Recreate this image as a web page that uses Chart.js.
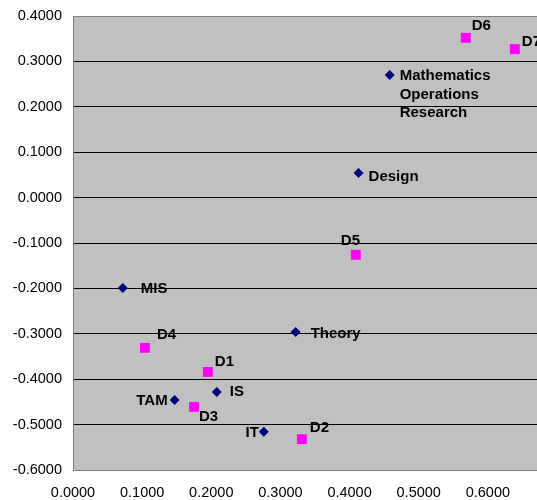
<!DOCTYPE html>
<html>
<head>
<meta charset="utf-8">
<script src="https://cdn.jsdelivr.net/npm/chart.js@4"></script>
<style>
  html, body { margin: 0; padding: 0; background: #fff; overflow: hidden; }
  #wrap { width: 564px; height: 500px; }
</style>
</head>
<body>
<div id="wrap"><canvas id="grafico" width="564" height="500"></canvas></div>
<script>
// areas (blue diamonds)
const areaNames = ["Mathematics\nOperations\nResearch", "Design", "MIS", "Theory", "IS", "TAM", "IT"];
const areaX = [0.458, 0.413, 0.072, 0.322, 0.208, 0.147, 0.276];
const areaY = [0.270, 0.054, -0.199, -0.296, -0.428, -0.446, -0.516];

// dimensions (pink squares)
const dimNames = ["D1", "D2", "D3", "D4", "D5", "D6", "D7"];
const dimX = [0.195, 0.331, 0.175, 0.104, 0.409, 0.568, 0.639];
const dimY = [-0.384, -0.532, -0.461, -0.331, -0.126, 0.352, 0.327];

// label offsets in px [dx, dy, align]
const areaOffsets = [[10, 1, "left"], [10, 4, "left"], [18, 1, "left"], [15, 2, "left"], [13, 0, "left"], [-7, 1, "right"], [-5, 1, "right"]];
const dimOffsets = [[7, -10, "left"], [8, -11, "left"], [5, 10, "left"], [12, -13, "left"], [-15, -14, "left"], [6, -12, "left"], [7, -7, "left"]];

const fonte = "'Liberation Sans', Arial, sans-serif";

const fundo = {
    id: "fundo",
    beforeDraw(chart) {
        const a = chart.chartArea, ctx = chart.ctx;
        ctx.save();
        ctx.fillStyle = "#C0C0C0";
        ctx.fillRect(a.left, a.top, a.right - a.left, a.bottom - a.top);
        ctx.restore();
    },
    beforeDatasetsDraw(chart) {
        const a = chart.chartArea, ctx = chart.ctx;
        ctx.save();
        ctx.strokeStyle = "#808080";
        ctx.lineWidth = 1;
        ctx.strokeRect(a.left + 0.5, a.top + 0.5, a.right - a.left, a.bottom - a.top);
        ctx.restore();
    }
};

const rotulos = {
    id: "rotulos",
    afterDatasetsDraw(chart) {
        const ctx = chart.ctx;
        ctx.save();
        ctx.font = "bold 15px " + fonte;
        ctx.fillStyle = "#000";
        ctx.textBaseline = "middle";
        const grupos = [[0, areaNames, areaOffsets], [1, dimNames, dimOffsets]];
        grupos.forEach(([ds, nomes, offs]) => {
            chart.getDatasetMeta(ds).data.forEach((p, i) => {
                const o = offs[i];
                ctx.textAlign = o[2];
                nomes[i].split("\n").forEach((linha, k) => {
                    ctx.fillText(linha, p.x + o[0], p.y + o[1] + k * 18.5);
                });
            });
        });
        ctx.restore();
    }
};

function semPadding(s) {
    s.paddingTop = 0;
    s.paddingBottom = 0;
    s.paddingLeft = 0;
    s.paddingRight = 0;
}

new Chart(document.getElementById("grafico").getContext("2d"), {
    type: "scatter",
    data: {
        datasets: [{
            label: "Areas",
            data: areaX.map((x, i) => ({ x: x, y: areaY[i] })),
            pointStyle: "rectRot",
            pointRadius: 5,
            backgroundColor: "#000080",
            borderColor: "#000080",
            borderWidth: 0
        }, {
            label: "Dimensions",
            data: dimX.map((x, i) => ({ x: x, y: dimY[i] })),
            pointStyle: "rect",
            pointRadius: 7,
            backgroundColor: "#FF00FF",
            borderColor: "#FF00FF",
            borderWidth: 0
        }]
    },
    options: {
        responsive: false,
        animation: false,
        layout: { padding: { left: 0, right: 3, top: 16, bottom: 0 } },
        plugins: { legend: { display: false }, tooltip: { enabled: false } },
        scales: {
            x: {
                type: "linear",
                min: 0,
                max: 0.7,
                grid: { display: false },
                border: { display: false },
                ticks: {
                    stepSize: 0.1,
                    padding: 6,
                    color: "#000",
                    font: { family: fonte, size: 14.5 },
                    maxRotation: 0,
                    callback: v => v > 0.65 ? "" : (Math.abs(v) < 1e-9 ? 0 : v).toFixed(4)
                },
                afterFit: s => { s.height = 30; semPadding(s); }
            },
            y: {
                min: -0.6,
                max: 0.4,
                grid: {
                    color: c => (c.tick && (c.tick.value > 0.39 || c.tick.value < -0.59)) ? "rgba(0,0,0,0)" : "#000",
                    drawTicks: false,
                    lineWidth: 1
                },
                border: { display: false },
                ticks: {
                    stepSize: 0.1,
                    padding: 11,
                    color: "#000",
                    font: { family: fonte, size: 14.5 },
                    callback: v => (Math.abs(v) < 1e-9 ? 0 : v).toFixed(4)
                },
                afterFit: s => { s.width = 73; semPadding(s); }
            }
        }
    },
    plugins: [fundo, rotulos]
});
</script>
</body>
</html>
